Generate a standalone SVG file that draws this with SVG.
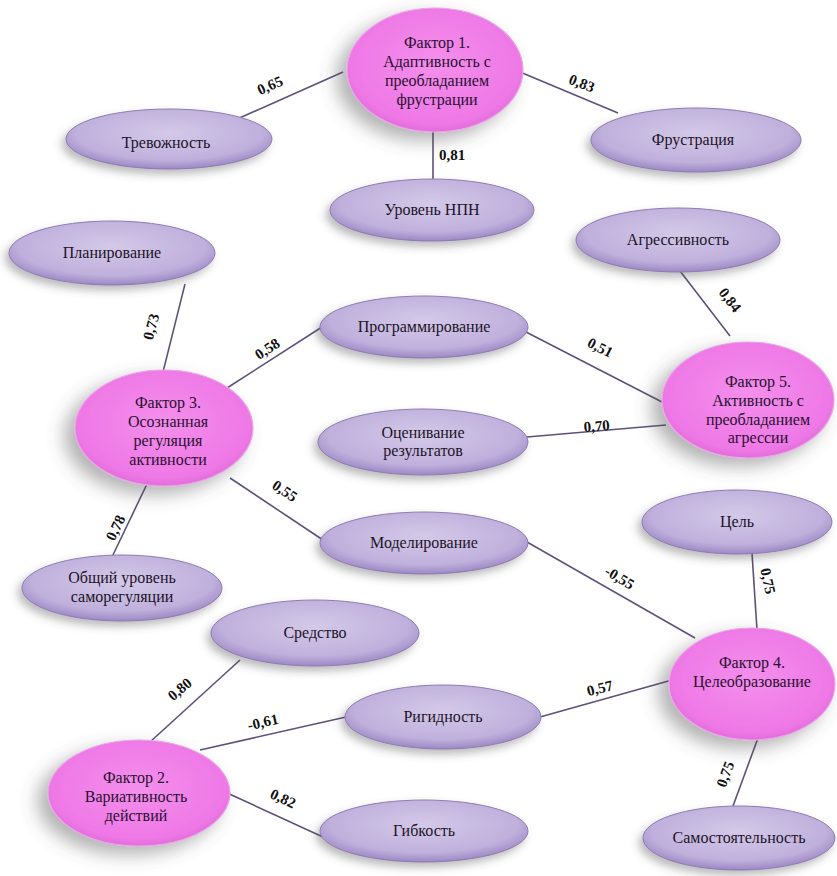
<svg xmlns="http://www.w3.org/2000/svg" width="837" height="876" viewBox="0 0 837 876">
<defs>
<radialGradient id="gl" cx="50%" cy="40%" r="60%">
<stop offset="0" stop-color="#d4c9e8"/>
<stop offset="0.75" stop-color="#bfb0dc"/>
<stop offset="1" stop-color="#9c88c4"/>
</radialGradient>
<radialGradient id="gp" cx="50%" cy="45%" r="60%">
<stop offset="0" stop-color="#f48fec"/>
<stop offset="0.8" stop-color="#ee78e6"/>
<stop offset="1" stop-color="#d866d2"/>
</radialGradient>
<filter id="sh" x="-30%" y="-30%" width="160%" height="170%">
<feDropShadow dx="-4" dy="5" stdDeviation="4" flood-color="#555" flood-opacity="0.4"/>
</filter>
<filter id="shb" x="-40%" y="-40%" width="180%" height="190%">
<feDropShadow dx="-10" dy="8" stdDeviation="9" flood-color="#555" flood-opacity="0.45"/>
</filter>
</defs>
<style>
.ln{stroke:#5e5078;stroke-width:1.6;fill:none}
.l{fill:url(#gl);stroke:#8d7bb3;stroke-width:1;filter:url(#sh)}
.p{fill:url(#gp);stroke:#e9a6e6;stroke-width:1.2;filter:url(#shb)}
text{text-anchor:middle;font-size:16px;font-family:'Liberation Serif','Times New Roman','DejaVu Serif',serif}
.t{fill:#1c1428}
.tp{fill:#2a1030}
.w{font-weight:bold;fill:#111;font-size:15px}
</style>
<rect width="837" height="876" fill="#ffffff"/>
<g id="connectors">
<line class="ln" x1="343" y1="72" x2="235" y2="120"/>
<line class="ln" x1="520" y1="72" x2="618" y2="113"/>
<line class="ln" x1="433" y1="130" x2="433" y2="180"/>
<line class="ln" x1="185" y1="284" x2="163" y2="372"/>
<line class="ln" x1="227" y1="388" x2="322" y2="327"/>
<line class="ln" x1="526" y1="332" x2="662" y2="402"/>
<line class="ln" x1="680" y1="271" x2="730" y2="336"/>
<line class="ln" x1="527" y1="437" x2="666" y2="425"/>
<line class="ln" x1="230" y1="478" x2="323" y2="540"/>
<line class="ln" x1="147" y1="484" x2="112" y2="557"/>
<line class="ln" x1="527" y1="542" x2="695" y2="638"/>
<line class="ln" x1="752" y1="553" x2="757" y2="630"/>
<line class="ln" x1="240" y1="660" x2="150" y2="742"/>
<line class="ln" x1="346" y1="717" x2="200" y2="750"/>
<line class="ln" x1="540" y1="717" x2="672" y2="680"/>
<line class="ln" x1="225" y1="792" x2="323" y2="837"/>
<line class="ln" x1="758" y1="738" x2="733" y2="806"/>
</g>
<g id="n_trevozhnost"><ellipse class="l" cx="169" cy="139" rx="103" ry="30"/><text class="t" x="166" y="148">Тревожность</text></g>
<g id="n_frustracia"><ellipse class="l" cx="696" cy="140" rx="105" ry="32"/><text class="t" x="693" y="145">Фрустрация</text></g>
<g id="n_npn"><ellipse class="l" cx="432" cy="210" rx="102" ry="31"/><text class="t" x="432" y="215">Уровень НПН</text></g>
<g id="n_planirovanie"><ellipse class="l" cx="112" cy="253" rx="103" ry="32"/><text class="t" x="112" y="258">Планирование</text></g>
<g id="n_agressivnost"><ellipse class="l" cx="678" cy="240" rx="102" ry="32"/><text class="t" x="678" y="245">Агрессивность</text></g>
<g id="n_programmirovanie"><ellipse class="l" cx="424" cy="327" rx="104" ry="31"/><text class="t" x="424" y="332">Программирование</text></g>
<g id="n_ocenivanie"><ellipse class="l" cx="423" cy="442" rx="105" ry="33"/><text class="t" x="423" y="438">Оценивание</text><text class="t" x="423" y="456">результатов</text></g>
<g id="n_modelirovanie"><ellipse class="l" cx="424" cy="543" rx="104" ry="31"/><text class="t" x="424" y="548">Моделирование</text></g>
<g id="n_cel"><ellipse class="l" cx="737" cy="522" rx="95" ry="32"/><text class="t" x="737" y="527">Цель</text></g>
<g id="n_obshiy"><ellipse class="l" cx="122" cy="588" rx="100" ry="33"/><text class="t" x="122" y="583">Общий уровень</text><text class="t" x="122" y="602">саморегуляции</text></g>
<g id="n_sredstvo"><ellipse class="l" cx="315" cy="633" rx="104" ry="33"/><text class="t" x="315" y="638">Средство</text></g>
<g id="n_rigidnost"><ellipse class="l" cx="443" cy="717" rx="98" ry="32"/><text class="t" x="443" y="722">Ригидность</text></g>
<g id="n_gibkost"><ellipse class="l" cx="424" cy="831" rx="104" ry="31"/><text class="t" x="424" y="836">Гибкость</text></g>
<g id="n_samost"><ellipse class="l" cx="739" cy="838" rx="96" ry="32"/><text class="t" x="739" y="843">Самостоятельность</text></g>
<g id="f1"><ellipse class="p" cx="435" cy="70" rx="88" ry="62"/><text class="tp" x="437" y="48">Фактор 1.</text><text class="tp" x="437" y="67">Адаптивность с</text><text class="tp" x="437" y="86">преобладанием</text><text class="tp" x="437" y="105">фрустрации</text></g>
<g id="f3"><ellipse class="p" cx="164" cy="428" rx="89" ry="58"/><text class="tp" x="168" y="408">Фактор 3.</text><text class="tp" x="168" y="427">Осознанная</text><text class="tp" x="168" y="446">регуляция</text><text class="tp" x="168" y="465">активности</text></g>
<g id="f5"><ellipse class="p" cx="748" cy="400" rx="86" ry="58"/><text class="tp" x="758" y="387">Фактор 5.</text><text class="tp" x="758" y="406">Активность с</text><text class="tp" x="758" y="425">преобладанием</text><text class="tp" x="758" y="443">агрессии</text></g>
<g id="f4"><ellipse class="p" cx="752" cy="684" rx="83" ry="56"/><text class="tp" x="752" y="668">Фактор 4.</text><text class="tp" x="752" y="687">Целеобразование</text></g>
<g id="f2"><ellipse class="p" cx="139" cy="793" rx="91" ry="53"/><text class="tp" x="136" y="783">Фактор 2.</text><text class="tp" x="136" y="802">Вариативность</text><text class="tp" x="136" y="821">действий</text></g>
<g id="labels">
<text class="w" transform="translate(272,90) rotate(-24)">0,65</text>
<text class="w" transform="translate(580,88) rotate(21)">0,83</text>
<text class="w" x="452" y="160">0,81</text>
<text class="w" transform="translate(156,328) rotate(-75)">0,73</text>
<text class="w" transform="translate(270,353) rotate(-33)">0,58</text>
<text class="w" transform="translate(598,352) rotate(27)">0,51</text>
<text class="w" transform="translate(726,303) rotate(52)">0,84</text>
<text class="w" transform="translate(597,431) rotate(-4)">0,70</text>
<text class="w" transform="translate(282,495) rotate(34)">0,55</text>
<text class="w" transform="translate(120,530) rotate(-64)">0,78</text>
<text class="w" transform="translate(617,582) rotate(31)">-0,55</text>
<text class="w" transform="translate(763,582) rotate(78)">0,75</text>
<text class="w" transform="translate(183,693) rotate(-40)">0,80</text>
<text class="w" transform="translate(264,727) rotate(-13)">-0,61</text>
<text class="w" transform="translate(601,693) rotate(-14)">0,57</text>
<text class="w" transform="translate(281,803) rotate(25)">0,82</text>
<text class="w" transform="translate(730,776) rotate(-70)">0,75</text>
</g>
</svg>
